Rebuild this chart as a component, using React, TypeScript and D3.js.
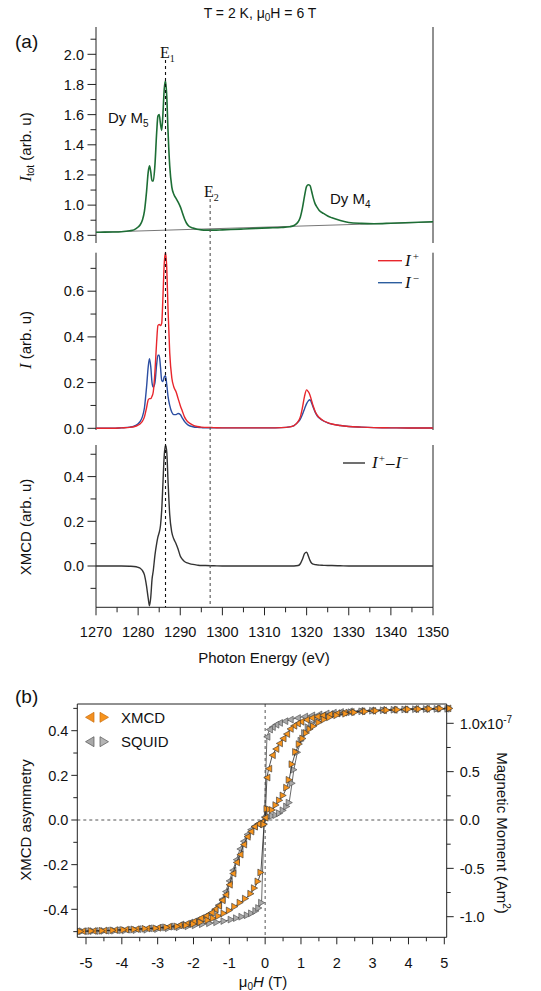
import React from 'react';
import * as d3 from 'd3';

// ---------- Panel (a) data ----------
const ENERGY = [1270, 1272, 1274, 1276, 1278, 1279, 1280, 1280.5, 1281, 1281.5, 1282, 1282.4, 1282.7, 1283, 1283.3, 1283.6, 1284, 1284.4, 1284.7, 1285, 1285.3, 1285.6, 1285.9, 1286.2, 1286.5, 1286.8, 1287.1, 1287.5, 1288, 1288.5, 1289, 1289.5, 1290, 1290.5, 1291, 1291.5, 1292, 1293, 1294, 1295, 1296, 1298, 1300, 1302, 1305, 1308, 1311, 1314, 1316, 1317, 1318, 1318.5, 1319, 1319.5, 1320, 1320.4, 1320.8, 1321.2, 1321.6, 1322, 1322.5, 1323, 1324, 1325, 1326, 1328, 1330, 1333, 1336, 1340, 1345, 1350];
const I_TOT = [0.820, 0.821, 0.822, 0.824, 0.830, 0.836, 0.855, 0.870, 0.900, 0.960, 1.090, 1.220, 1.260, 1.220, 1.160, 1.160, 1.270, 1.480, 1.590, 1.600, 1.540, 1.495, 1.610, 1.770, 1.825, 1.720, 1.490, 1.260, 1.120, 1.070, 1.045, 1.020, 0.990, 0.950, 0.910, 0.880, 0.862, 0.848, 0.840, 0.836, 0.834, 0.834, 0.836, 0.838, 0.842, 0.846, 0.849, 0.852, 0.857, 0.865, 0.890, 0.920, 0.980, 1.060, 1.125, 1.135, 1.130, 1.090, 1.045, 1.010, 0.985, 0.965, 0.945, 0.928, 0.916, 0.898, 0.885, 0.879, 0.877, 0.880, 0.885, 0.890];
const I_PLUS = [0, 0, 0, 0.002, 0.004, 0.007, 0.014, 0.02, 0.03, 0.05, 0.09, 0.125, 0.13, 0.13, 0.14, 0.16, 0.25, 0.38, 0.45, 0.455, 0.45, 0.46, 0.58, 0.72, 0.77, 0.70, 0.52, 0.33, 0.22, 0.18, 0.16, 0.13, 0.10, 0.075, 0.05, 0.035, 0.025, 0.014, 0.008, 0.005, 0.004, 0.003, 0.002, 0.002, 0.002, 0.002, 0.002, 0.003, 0.006, 0.012, 0.03, 0.05, 0.09, 0.14, 0.168, 0.16, 0.145, 0.12, 0.095, 0.075, 0.058, 0.047, 0.033, 0.025, 0.019, 0.012, 0.008, 0.005, 0.003, 0.002, 0.001, 0.001];
const I_MINUS = [0, 0, 0, 0.002, 0.005, 0.009, 0.02, 0.03, 0.05, 0.09, 0.18, 0.27, 0.305, 0.27, 0.2, 0.18, 0.2, 0.28, 0.32, 0.32, 0.27, 0.21, 0.205, 0.225, 0.23, 0.19, 0.14, 0.10, 0.07, 0.06, 0.06, 0.065, 0.06, 0.045, 0.03, 0.02, 0.013, 0.007, 0.004, 0.003, 0.002, 0.002, 0.002, 0.002, 0.002, 0.002, 0.002, 0.003, 0.006, 0.012, 0.028, 0.04, 0.06, 0.085, 0.108, 0.12, 0.125, 0.11, 0.09, 0.072, 0.055, 0.045, 0.032, 0.024, 0.018, 0.012, 0.008, 0.005, 0.003, 0.002, 0.001, 0.001];
const XMCD = [0, 0, 0, 0, -0.001, -0.002, -0.006, -0.01, -0.02, -0.04, -0.09, -0.145, -0.178, -0.14, -0.06, -0.02, 0.05, 0.10, 0.13, 0.15, 0.18, 0.25, 0.375, 0.495, 0.54, 0.51, 0.38, 0.23, 0.15, 0.12, 0.10, 0.075, 0.045, 0.03, 0.02, 0.015, 0.012, 0.007, 0.004, 0.002, 0.002, 0.001, 0, 0, 0, 0, 0, 0, 0, 0, 0.002, 0.01, 0.03, 0.055, 0.062, 0.045, 0.025, 0.012, 0.008, 0.006, 0.005, 0.004, 0.003, 0.002, 0.002, 0.001, 0, 0, 0, 0, 0, 0];
const BASE_E = [1270, 1350];
const BASE_V = [0.82, 0.888];
const E1 = 1286.5;
const E2 = 1297.1;

const E_TICKS = [1270, 1280, 1290, 1300, 1310, 1320, 1330, 1340, 1350];
const TOT_TICKS = [0.8, 1.0, 1.2, 1.4, 1.6, 1.8, 2.0];
const INT_TICKS = [0.0, 0.2, 0.4, 0.6];
const DIFF_TICKS = [0.0, 0.2, 0.4];

// ---------- Panel (b) data ----------
const H_XD = [5.1, 4.8, 4.5, 4.2, 3.9, 3.6, 3.3, 3.0, 2.7, 2.4, 2.2, 2.0, 1.8, 1.6, 1.45, 1.3, 1.15, 1.0, 0.9, 0.8, 0.7, 0.6, 0.5, 0.4, 0.3, 0.2, 0.1, 0.05, 0.0, -0.1, -0.2, -0.3, -0.4, -0.5, -0.6, -0.7, -0.8, -0.9, -1.0, -1.1, -1.2, -1.3, -1.4, -1.5, -1.65, -1.8, -2.0, -2.2, -2.4, -2.7, -3.0, -3.3, -3.6, -3.9, -4.2, -4.5, -4.8, -5.1];
const M_XD = [0.500, 0.499, 0.498, 0.497, 0.495, 0.493, 0.491, 0.489, 0.487, 0.484, 0.481, 0.477, 0.473, 0.468, 0.463, 0.457, 0.449, 0.440, 0.432, 0.422, 0.408, 0.385, 0.365, 0.343, 0.318, 0.290, 0.230, 0.190, 0.010, -0.010, -0.018, -0.030, -0.052, -0.075, -0.110, -0.155, -0.190, -0.240, -0.290, -0.335, -0.360, -0.385, -0.400, -0.415, -0.430, -0.440, -0.455, -0.465, -0.472, -0.478, -0.483, -0.486, -0.489, -0.491, -0.493, -0.495, -0.497, -0.498];
const H_XU = [-5.15, -4.85, -4.55, -4.25, -3.95, -3.65, -3.35, -3.05, -2.75, -2.45, -2.2, -2.0, -1.8, -1.6, -1.45, -1.3, -1.15, -1.0, -0.85, -0.7, -0.55, -0.4, -0.3, -0.2, -0.12, -0.03, 0.05, 0.12, 0.2, 0.3, 0.4, 0.5, 0.6, 0.67, 0.75, 0.85, 0.95, 1.05, 1.15, 1.25, 1.35, 1.5, 1.65, 1.8, 2.0, 2.25, 2.5, 2.8, 3.1, 3.4, 3.7, 4.0, 4.3, 4.6, 4.9, 5.15];
const M_XU = [-0.499, -0.497, -0.496, -0.494, -0.492, -0.490, -0.487, -0.485, -0.481, -0.477, -0.472, -0.466, -0.458, -0.449, -0.440, -0.430, -0.418, -0.405, -0.388, -0.370, -0.352, -0.330, -0.305, -0.275, -0.235, -0.020, 0.050, 0.048, 0.045, 0.067, 0.088, 0.110, 0.145, 0.180, 0.250, 0.305, 0.340, 0.365, 0.390, 0.407, 0.420, 0.437, 0.450, 0.460, 0.469, 0.476, 0.482, 0.486, 0.489, 0.492, 0.494, 0.496, 0.497, 0.498, 0.499, 0.500];
// SQUID magnetic moment in units of 1e-7 Am^2
const H_SD = [5.05, 4.75, 4.45, 4.15, 3.85, 3.55, 3.25, 2.95, 2.65, 2.35, 2.1, 1.9, 1.7, 1.5, 1.3, 1.1, 0.9, 0.7, 0.55, 0.4, 0.3, 0.2, 0.12, 0.05, -0.02, -0.1, -0.2, -0.3, -0.4, -0.5, -0.6, -0.7, -0.8, -0.9, -1.0, -1.1, -1.2, -1.3, -1.4, -1.55, -1.7, -1.9, -2.1, -2.35, -2.65, -2.95, -3.25, -3.55, -3.85, -4.15, -4.45, -4.75, -5.05];
const M_SD = [1.150, 1.149, 1.148, 1.146, 1.144, 1.141, 1.138, 1.134, 1.130, 1.124, 1.117, 1.110, 1.102, 1.092, 1.082, 1.070, 1.055, 1.038, 1.022, 1.004, 0.985, 0.960, 0.935, 0.860, 0.030, -0.020, -0.040, -0.065, -0.100, -0.150, -0.220, -0.300, -0.410, -0.520, -0.630, -0.740, -0.820, -0.880, -0.925, -0.970, -1.000, -1.035, -1.060, -1.080, -1.100, -1.110, -1.120, -1.128, -1.135, -1.140, -1.145, -1.148, -1.150];
const H_SU = [-5.1, -4.8, -4.5, -4.2, -3.9, -3.6, -3.3, -3.0, -2.7, -2.4, -2.15, -1.95, -1.75, -1.55, -1.35, -1.15, -0.95, -0.8, -0.65, -0.5, -0.38, -0.26, -0.18, -0.1, -0.03, 0.05, 0.1, 0.2, 0.3, 0.4, 0.5, 0.6, 0.67, 0.75, 0.8, 0.9, 1.0, 1.1, 1.2, 1.3, 1.45, 1.6, 1.75, 1.95, 2.15, 2.4, 2.7, 3.0, 3.3, 3.6, 3.9, 4.2, 4.5, 4.8, 5.1];
const M_SU = [-1.150, -1.149, -1.147, -1.145, -1.142, -1.139, -1.135, -1.128, -1.120, -1.110, -1.100, -1.090, -1.078, -1.068, -1.058, -1.045, -1.030, -1.015, -1.000, -0.985, -0.965, -0.940, -0.910, -0.855, -0.040, 0.020, 0.035, 0.042, 0.050, 0.070, 0.100, 0.140, 0.180, 0.380, 0.520, 0.700, 0.820, 0.900, 0.960, 1.000, 1.040, 1.065, 1.080, 1.095, 1.105, 1.115, 1.124, 1.130, 1.135, 1.140, 1.143, 1.146, 1.148, 1.149, 1.150];

const H_TICKS = [-5, -4, -3, -2, -1, 0, 1, 2, 3, 4, 5];
const ASYM_TICKS = [-0.4, -0.2, 0.0, 0.2, 0.4];
const MOM_TICKS = [-1.0, -0.5, 0.0, 0.5, 1.0];

const SANS = 'Liberation Sans, Arial, sans-serif';
const SERIF = 'Liberation Serif, Times New Roman, serif';

const fmt1 = (v: number) => v.toFixed(1);

export default function App() {
  // panel (a) scales
  const xA = d3.scaleLinear().domain([1270, 1350]).range([96, 433]);
  const yTop = d3.scaleLinear().domain([0.8, 2.0]).range([235.3, 54.3]);
  const yMid = d3.scaleLinear().domain([0, 0.6]).range([428.3, 291.2]);
  const yBot = d3.scaleLinear().domain([0, 0.4]).range([566, 476.6]);
  const TOP_Y0 = 27, TOP_Y1 = 243;
  const MID_Y0 = 252.7, MID_Y1 = 430;
  const BOT_Y0 = 445, BOT_Y1 = 607.3;

  // panel (b) scales
  const xH = d3.scaleLinear().domain([-5, 5]).range([86, 444.3]);
  const yAs = d3.scaleLinear().domain([-0.4, 0.4]).range([909.3, 730.7]);
  const yMo = d3.scaleLinear().domain([-1, 1]).range([916.7, 723.3]);
  const BL = 77.3, BR = 446.7, BT = 704, BB = 937.3;

  const mkLine = (ys: number[], sy: d3.ScaleLinear<number, number>) =>
    d3.line<number>().x((_, i) => xA(ENERGY[i])).y((d) => sy(d)).curve(d3.curveMonotoneX)(ys) || '';

  const hLine = (hs: number[], ms: number[], sy: d3.ScaleLinear<number, number>) =>
    d3.line<number>().x((d) => xH(d)).y((_, i) => sy(ms[i]))(hs) || '';

  const triL = 'M-3.2,0L3,-3.4L3,3.4Z';
  const triR = 'M3.2,0L-3,-3.4L-3,3.4Z';

  const leftAxisA = (
    sy: d3.ScaleLinear<number, number>, ticks: number[], minors: number[], y0: number, y1: number
  ) => (
    <g>
      <line x1={96} x2={96} y1={y0} y2={y1} stroke="#222" strokeWidth={1} />
      <line x1={433} x2={433} y1={y0} y2={y1} stroke="#222" strokeWidth={1} />
      {ticks.map((t) => (
        <g key={'M' + t}>
          <line x1={87.5} x2={96} y1={sy(t)} y2={sy(t)} stroke="#222" strokeWidth={1} />
          <text x={84} y={sy(t)} dy="0.36em" textAnchor="end" fontSize={14.5} fontFamily={SANS} fill="#111">{fmt1(t)}</text>
        </g>
      ))}
      {minors.map((t) => (
        <line key={'m' + t} x1={90.5} x2={96} y1={sy(t)} y2={sy(t)} stroke="#222" strokeWidth={1} />
      ))}
    </g>
  );

  const eMinor = d3.range(1275, 1350, 10);
  const hMinor = d3.range(-4.5, 5, 1);

  const dSqD = hLine(H_SD, M_SD, yMo);
  const dSqU = hLine(H_SU, M_SU, yMo);
  const dXD = hLine(H_XD, M_XD, yAs);
  const dXU = hLine(H_XU, M_XU, yAs);

  return (
    <svg width={541} height={991} style={{ position: 'absolute', left: 0, top: 0, background: '#fff' }}>
      <rect x={0} y={0} width={541} height={991} fill="#fff" />
      {/* Title */}
      <text x={260} y={18} textAnchor="middle" fontSize={14} fontFamily={SANS} fill="#111">
        T = 2 K, μ<tspan fontSize={10} dy={3}>0</tspan><tspan dy={-3}>H = 6 T</tspan>
      </text>
      <text x={15} y={48} fontSize={19} fontFamily={SANS} fill="#111">(a)</text>

      {/* ---------- top panel ---------- */}
      {leftAxisA(yTop, TOT_TICKS, [0.9, 1.1, 1.3, 1.5, 1.7, 1.9, 2.1], TOP_Y0, TOP_Y1)}
      <line x1={xA(BASE_E[0])} y1={yTop(BASE_V[0])} x2={xA(BASE_E[1])} y2={yTop(BASE_V[1])} stroke="#777" strokeWidth={1} />
      <path d={mkLine(I_TOT, yTop)} fill="none" stroke="#1d6e35" strokeWidth={1.6} />
      <text x={108} y={123} fontSize={15} fontFamily={SANS} fill="#111">Dy M<tspan fontSize={10} dy={4}>5</tspan></text>
      <text x={330} y={204} fontSize={15} fontFamily={SANS} fill="#111">Dy M<tspan fontSize={10} dy={4}>4</tspan></text>
      <text x={160} y={58} fontSize={16} fontFamily={SERIF} fill="#111">E<tspan fontSize={10} dy={4}>1</tspan></text>
      <text x={204} y={197} fontSize={16} fontFamily={SERIF} fill="#111">E<tspan fontSize={10} dy={4}>2</tspan></text>
      <text transform="translate(31,147) rotate(-90)" textAnchor="middle" fontSize={15} fontFamily={SANS} fill="#111">
        <tspan fontFamily={SERIF} fontStyle="italic" fontSize={17}>I</tspan><tspan fontSize={10} dy={3}>tot</tspan><tspan dy={-3}> (arb. u)</tspan>
      </text>

      {/* ---------- middle panel ---------- */}
      {leftAxisA(yMid, INT_TICKS, [0.1, 0.3, 0.5, 0.7], MID_Y0, MID_Y1)}
      <path d={mkLine(I_MINUS, yMid)} fill="none" stroke="#2c4ea2" strokeWidth={1.4} />
      <path d={mkLine(I_PLUS, yMid)} fill="none" stroke="#e8262c" strokeWidth={1.4} />
      <line x1={378} x2={402} y1={260.7} y2={260.7} stroke="#e8262c" strokeWidth={1.4} />
      <line x1={378} x2={402} y1={282.7} y2={282.7} stroke="#2c5d9e" strokeWidth={1.4} />
      <text x={405} y={266} fontSize={17} fontFamily={SERIF} fontStyle="italic" fill="#111">I<tspan fontSize={11} fontStyle="normal" dy={-6} dx={2}>+</tspan></text>
      <text x={405} y={288} fontSize={17} fontFamily={SERIF} fontStyle="italic" fill="#111">I<tspan fontSize={11} fontStyle="normal" dy={-6} dx={2}>−</tspan></text>
      <text transform="translate(31,340) rotate(-90)" textAnchor="middle" fontSize={15} fontFamily={SANS} fill="#111">
        <tspan fontFamily={SERIF} fontStyle="italic" fontSize={17}>I</tspan><tspan> (arb. u)</tspan>
      </text>

      {/* ---------- bottom panel ---------- */}
      {leftAxisA(yBot, DIFF_TICKS, [-0.1, 0.1, 0.3, 0.5], BOT_Y0, BOT_Y1)}
      <path d={mkLine(XMCD, yBot)} fill="none" stroke="#333" strokeWidth={1.4} />
      <line x1={343} x2={365} y1={463} y2={463} stroke="#333" strokeWidth={1.4} />
      <text x={372} y={468} fontSize={17} fontFamily={SERIF} fontStyle="italic" fill="#111">
        I<tspan fontSize={11} fontStyle="normal" dy={-6} dx={1}>+</tspan><tspan dy={6} fontStyle="normal" dx={1}>–</tspan><tspan dx={1}>I</tspan><tspan fontSize={11} fontStyle="normal" dy={-6} dx={1}>−</tspan>
      </text>
      <text transform="translate(31,527) rotate(-90)" textAnchor="middle" fontSize={15} fontFamily={SANS} fill="#111">XMCD  (arb. u)</text>

      {/* x axis of panel (a) */}
      <line x1={96} x2={433} y1={BOT_Y1} y2={BOT_Y1} stroke="#222" strokeWidth={1} />
      {E_TICKS.map((t) => (
        <g key={'e' + t}>
          <line x1={xA(t)} x2={xA(t)} y1={BOT_Y1} y2={BOT_Y1 + 8} stroke="#222" strokeWidth={1} />
          <text x={xA(t)} y={637} textAnchor="middle" fontSize={14.5} fontFamily={SANS} fill="#111">{t}</text>
        </g>
      ))}
      {eMinor.map((t) => (
        <line key={'em' + t} x1={xA(t)} x2={xA(t)} y1={BOT_Y1} y2={BOT_Y1 + 5} stroke="#222" strokeWidth={1} />
      ))}
      <text x={264} y={663} textAnchor="middle" fontSize={15} fontFamily={SANS} fill="#111">Photon Energy (eV)</text>

      {/* E1 / E2 markers */}
      <line x1={xA(E1)} x2={xA(E1)} y1={60} y2={BOT_Y1} stroke="#111" strokeWidth={1.1} strokeDasharray="3,3" />
      <line x1={xA(E2)} x2={xA(E2)} y1={199} y2={BOT_Y1} stroke="#555" strokeWidth={1.1} strokeDasharray="3,3" />

      {/* ---------- panel (b) ---------- */}
      <text x={15} y={703} fontSize={19} fontFamily={SANS} fill="#111">(b)</text>
      <line x1={BL} x2={BR} y1={yAs(0)} y2={yAs(0)} stroke="#555" strokeWidth={1} strokeDasharray="3,3" />
      <line x1={xH(0)} x2={xH(0)} y1={BT} y2={BB} stroke="#555" strokeWidth={1} strokeDasharray="3,3" />

      {/* SQUID */}
      <path d={dSqD} fill="none" stroke="#444" strokeWidth={0.8} />
      <path d={dSqU} fill="none" stroke="#444" strokeWidth={0.8} />
      {H_SD.map((h, i) => (
        <path key={'sd' + i} d={triL} transform={`translate(${xH(h)},${yMo(M_SD[i])})`} fill="#a9a9a9" stroke="#444" strokeWidth={0.6} />
      ))}
      {H_SU.map((h, i) => (
        <path key={'su' + i} d={triR} transform={`translate(${xH(h)},${yMo(M_SU[i])})`} fill="#a9a9a9" stroke="#444" strokeWidth={0.6} />
      ))}
      {/* XMCD */}
      <path d={dXD} fill="none" stroke="#222" strokeWidth={0.8} />
      <path d={dXU} fill="none" stroke="#222" strokeWidth={0.8} />
      {H_XD.map((h, i) => (
        <path key={'xd' + i} d={triL} transform={`translate(${xH(h)},${yAs(M_XD[i])})`} fill="#f7941d" stroke="#333" strokeWidth={0.6} />
      ))}
      {H_XU.map((h, i) => (
        <path key={'xu' + i} d={triR} transform={`translate(${xH(h)},${yAs(M_XU[i])})`} fill="#f7941d" stroke="#333" strokeWidth={0.6} />
      ))}

      {/* frame */}
      <line x1={BL} x2={BR} y1={BT} y2={BT} stroke="#222" strokeWidth={1} />
      <line x1={BL} x2={BR} y1={BB} y2={BB} stroke="#222" strokeWidth={1} />
      <line x1={BL} x2={BL} y1={BT} y2={BB} stroke="#222" strokeWidth={1} />
      <line x1={BR} x2={BR} y1={BT} y2={BB} stroke="#222" strokeWidth={1} />

      {/* legend */}
      <path d="M-4.5,0L4,-5L4,5Z" transform="translate(90,717.3)" fill="#f39020" stroke="#c86e10" strokeWidth={0.7} />
      <path d="M4.5,0L-4,-5L-4,5Z" transform="translate(104,717.3)" fill="#f7941d" stroke="#c86e10" strokeWidth={0.7} />
      <text x={121} y={722.5} fontSize={15} fontFamily={SANS} fill="#111">XMCD</text>
      <path d="M-4.5,0L4,-5L4,5Z" transform="translate(90,741.7)" fill="#a9a9a9" stroke="#555" strokeWidth={0.7} />
      <path d="M4.5,0L-4,-5L-4,5Z" transform="translate(104,741.7)" fill="#b5b5b5" stroke="#555" strokeWidth={0.7} />
      <text x={121} y={747} fontSize={15} fontFamily={SANS} fill="#111">SQUID</text>

      {/* left axis ticks */}
      {ASYM_TICKS.map((t) => (
        <g key={'a' + t}>
          <line x1={BL - 6} x2={BL} y1={yAs(t)} y2={yAs(t)} stroke="#222" strokeWidth={1} />
          <text x={BL - 9} y={yAs(t)} dy="0.36em" textAnchor="end" fontSize={14.5} fontFamily={SANS} fill="#111">{fmt1(t)}</text>
        </g>
      ))}
      {[-0.5, -0.3, -0.1, 0.1, 0.3, 0.5].map((t) => (
        <line key={'am' + t} x1={BL - 4} x2={BL} y1={yAs(t)} y2={yAs(t)} stroke="#222" strokeWidth={1} />
      ))}
      {/* right axis ticks */}
      {MOM_TICKS.map((t) => (
        <g key={'r' + t}>
          <line x1={BR} x2={BR + 7} y1={yMo(t)} y2={yMo(t)} stroke="#222" strokeWidth={1} />
          <text x={BR + 13} y={yMo(t)} dy="0.36em" fontSize={14.5} fontFamily={SANS} fill="#111">
            {fmt1(t)}{t === 1 ? <tspan>x10<tspan fontSize={10} dy={-6}>-7</tspan></tspan> : null}
          </text>
        </g>
      ))}
      {[-0.75, -0.25, 0.25, 0.75].map((t) => (
        <line key={'rm' + t} x1={BR} x2={BR + 4} y1={yMo(t)} y2={yMo(t)} stroke="#222" strokeWidth={1} />
      ))}
      {/* bottom axis ticks */}
      {H_TICKS.map((t) => (
        <g key={'h' + t}>
          <line x1={xH(t)} x2={xH(t)} y1={BB} y2={BB + 7} stroke="#222" strokeWidth={1} />
          <text x={xH(t)} y={968} textAnchor="middle" fontSize={14.5} fontFamily={SANS} fill="#111">{t}</text>
        </g>
      ))}
      {hMinor.map((t) => (
        <line key={'hm' + t} x1={xH(t)} x2={xH(t)} y1={BB} y2={BB + 4} stroke="#222" strokeWidth={1} />
      ))}
      <text x={263} y={987} textAnchor="middle" fontSize={15} fontFamily={SANS} fill="#111">
        μ<tspan fontSize={10} dy={3}>0</tspan><tspan dy={-3} fontStyle="italic">H</tspan><tspan> (T)</tspan>
      </text>
      <text transform="translate(31,820) rotate(-90)" textAnchor="middle" fontSize={15} fontFamily={SANS} fill="#111">XMCD asymmetry</text>
      <text transform="translate(497,833) rotate(90)" textAnchor="middle" fontSize={15} fontFamily={SANS} fill="#111">
        Magnetic Moment (Am<tspan fontSize={10} dy={-6}>2</tspan><tspan dy={6}>)</tspan>
      </text>
    </svg>
  );
}
